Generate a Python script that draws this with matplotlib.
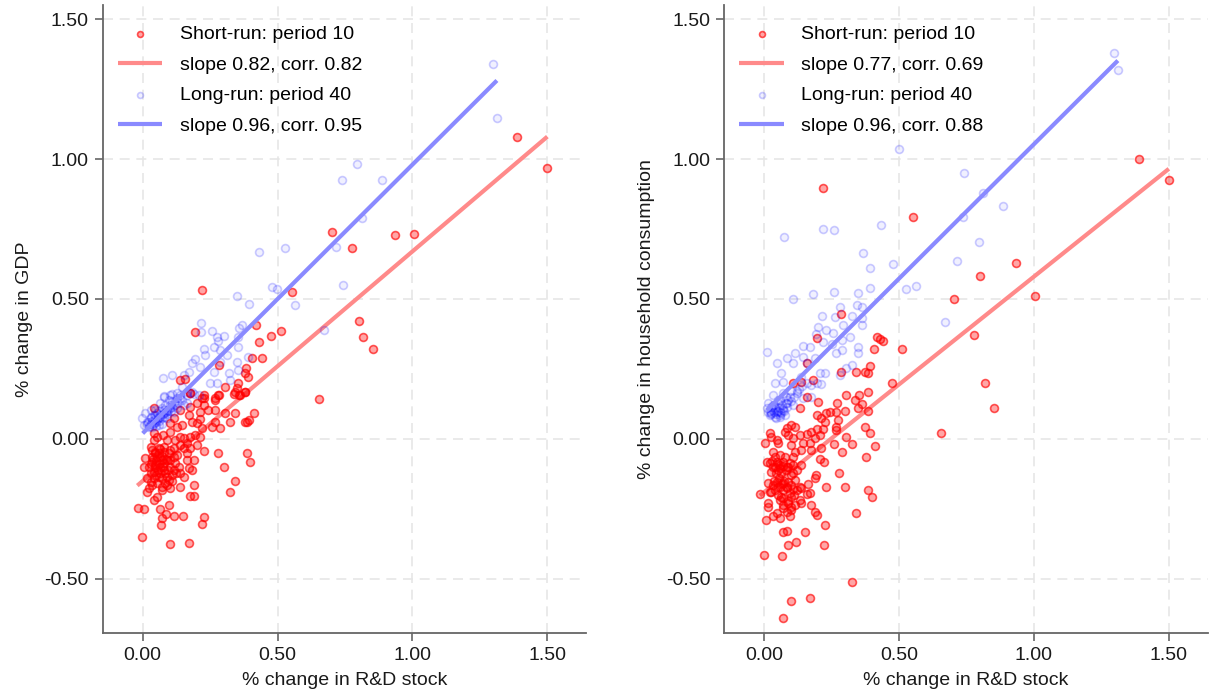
import matplotlib
matplotlib.use("Agg")
import matplotlib.pyplot as plt
import numpy as np

plt.rcParams['font.family'] = ['Liberation Sans', 'DejaVu Sans']

# ---- left panel: GDP ----
# short-run (period 10) points, (R&D stock change, GDP change)
gdp_sr = np.array([
    (1.389, 1.080), (1.500, 0.969), (0.702, 0.741), (0.936, 0.727), (1.005, 0.733),
    (0.777, 0.683), (0.802, 0.420), (0.817, 0.364), (0.852, 0.320), (0.652, 0.143),
    (0.220, 0.532), (0.195, 0.381), (0.419, 0.407), (0.514, 0.387), (0.474, 0.367),
    (0.430, 0.345), (0.405, 0.289), (0.441, 0.289), (0.552, 0.526), (0.282, 0.265),
    (0.384, 0.254), (0.378, 0.235), (0.390, 0.220), (0.353, 0.199), (0.305, 0.186),
    (0.350, 0.181), (0.380, 0.169), (0.337, 0.161), (0.362, 0.157), (0.137, 0.211),
    (0.158, 0.213), (0.177, 0.163), (0.278, 0.157), (0.226, 0.145), (0.269, 0.145),
    (-0.018, -0.248), (0.006, -0.251), (-0.001, -0.349), (0.101, -0.376), (0.171, -0.370),
    (0.068, -0.307), (0.073, -0.283), (0.096, -0.236), (0.063, -0.251), (0.088, -0.268),
    (0.115, -0.275), (0.150, -0.275), (0.226, -0.277), (0.220, -0.305), (0.041, -0.218),
    (0.016, -0.188), (0.053, -0.206), (0.072, -0.182), (0.103, -0.176), (0.140, -0.173),
    (0.177, -0.204), (0.192, -0.204), (0.192, -0.164), (0.325, -0.188), (0.341, -0.149),
    (0.300, -0.101), (0.229, -0.044), (0.278, -0.049), (0.387, -0.050), (0.399, -0.083),
    (0.010, -0.069), (0.004, -0.101), (0.016, -0.140), (0.035, -0.164), (0.041, -0.117),
    (0.035, -0.063), (0.029, -0.027), (0.041, -0.004), (0.047, -0.045), (0.059, -0.033),
    (0.066, -0.063), (0.078, -0.045), (0.090, -0.075), (0.066, -0.099), (0.059, -0.135),
    (0.084, -0.123), (0.103, -0.099), (0.096, -0.146), (0.109, -0.129), (0.121, -0.087),
    (0.127, -0.057), (0.115, -0.033), (0.137, -0.021), (0.152, -0.033), (0.164, -0.075),
    (0.171, -0.105), (0.183, -0.111), (0.152, -0.135), (0.189, -0.075), (0.041, 0.020),
    (0.053, 0.008), (0.075, 0.014), (0.090, -0.004), (0.121, -0.004), (0.140, 0.008),
    (0.103, 0.026), (0.127, 0.044), (0.146, 0.050), (0.177, 0.008), (0.164, -0.015),
    (0.195, 0.014), (0.214, 0.008), (0.220, 0.038), (0.201, 0.056), (0.183, 0.062),
    (0.170, 0.086), (0.140, 0.104), (0.115, 0.074), (0.103, 0.056), (0.177, 0.115),
    (0.201, 0.127), (0.220, 0.145), (0.226, 0.121), (0.241, 0.104), (0.214, 0.098),
    (0.214, 0.070), (0.257, 0.044), (0.288, 0.040), (0.269, 0.062), (0.269, 0.104),
    (0.269, 0.139), (0.282, 0.157), (0.306, 0.094), (0.325, 0.062), (0.343, 0.092),
    (0.356, 0.157), (0.380, 0.169), (0.387, 0.062), (0.378, 0.062), (0.393, 0.068),
    (0.411, 0.094), (0.343, 0.169), (0.041, 0.110), (0.177, 0.163), (0.226, 0.157),
    (0.035, -0.039), (0.047, -0.051), (0.053, -0.063), (0.063, -0.037), (0.072, -0.075),
    (0.035, -0.081), (0.022, -0.099), (0.047, -0.093), (0.056, -0.111), (0.078, -0.111),
    (0.090, -0.135), (0.041, -0.140), (0.029, -0.152), (0.053, -0.158), (0.084, -0.158),
    (0.072, -0.170), (0.022, -0.176), (0.103, -0.075), (0.096, -0.051), (0.115, -0.063),
    (0.134, -0.099), (0.140, -0.123), (0.115, -0.111), (0.164, -0.051), (0.152, 0.002),
    (0.201, -0.021), (0.177, -0.033),
    (0.040, -0.070), (0.050, -0.080), (0.060, -0.090), (0.070, -0.060), (0.080, -0.085),
    (0.045, -0.100), (0.065, -0.120), (0.075, -0.100), (0.085, -0.070), (0.095, -0.110),
    (0.030, -0.120), (0.050, -0.130), (0.070, -0.140), (0.090, -0.165), (0.060, -0.050),
    (0.080, -0.030), (0.100, -0.040), (0.110, -0.150), (0.125, -0.120), (0.030, -0.090),
])
# long-run (period 40) points
gdp_lr = np.array([
    (1.299, 1.341), (1.313, 1.148), (0.795, 0.983), (0.737, 0.925), (0.886, 0.925),
    (0.812, 0.790), (0.715, 0.687), (0.743, 0.549), (0.672, 0.391),
    (0.433, 0.668), (0.527, 0.682), (0.479, 0.543), (0.499, 0.537), (0.563, 0.480),
    (0.350, 0.510), (0.393, 0.482), (0.215, 0.413), (0.218, 0.382), (0.258, 0.386),
    (0.275, 0.365), (0.278, 0.350), (0.300, 0.369), (0.358, 0.395), (0.368, 0.406),
    (0.352, 0.365), (0.354, 0.330), (0.391, 0.294), (0.312, 0.300), (0.288, 0.318),
    (0.263, 0.327), (0.226, 0.320), (0.231, 0.300), (0.195, 0.285), (0.183, 0.270),
    (0.214, 0.258), (0.171, 0.240), (0.152, 0.229), (0.109, 0.229), (0.074, 0.217),
    (0.146, 0.187), (0.164, 0.169), (0.127, 0.163), (0.103, 0.157), (0.078, 0.154),
    (0.350, 0.276), (0.352, 0.246), (0.319, 0.235), (0.288, 0.276), (0.251, 0.199),
    (0.275, 0.199), (0.325, 0.211), (0.263, 0.240),
    (0.004, 0.050), (0.016, 0.062), (0.010, 0.092), (0.029, 0.074), (0.041, 0.056),
    (0.035, 0.044), (0.053, 0.068), (0.066, 0.080), (0.053, 0.092), (0.078, 0.092),
    (0.090, 0.104), (0.072, 0.110), (0.103, 0.121), (0.115, 0.127), (0.096, 0.139),
    (0.078, 0.151), (0.127, 0.145), (0.146, 0.139), (0.164, 0.157), (0.189, 0.161),
    (0.207, 0.157), (0.183, 0.169), (0.109, 0.161), (0.066, 0.127), (0.041, 0.086),
    (0.022, 0.044), (0.059, 0.050), (0.029, 0.104), (-0.002, 0.074), (0.090, 0.074),
    (0.127, 0.110), (0.152, 0.121), (0.047, 0.104), (0.084, 0.121), (0.115, 0.098),
    (0.140, 0.157), (0.164, 0.127),
    (0.020, 0.060), (0.030, 0.055), (0.035, 0.065), (0.045, 0.070), (0.050, 0.060),
    (0.055, 0.075), (0.060, 0.065), (0.065, 0.085), (0.070, 0.075), (0.075, 0.090),
    (0.080, 0.080), (0.085, 0.095), (0.090, 0.088), (0.095, 0.100), (0.100, 0.110),
    (0.105, 0.100), (0.110, 0.115), (0.120, 0.120), (0.025, 0.045), (0.040, 0.050),
    (0.060, 0.100), (0.045, 0.085), (0.030, 0.080), (0.110, 0.135), (0.130, 0.130),
    (0.140, 0.145), (0.015, 0.055), (0.050, 0.045), (0.070, 0.055), (0.080, 0.105),
])

# ---- right panel: household consumption ----
cons_sr = np.array([
    (1.388, 0.999), (1.500, 0.926), (0.218, 0.898), (0.935, 0.627), (0.801, 0.583),
    (0.702, 0.500), (1.004, 0.511), (0.778, 0.372), (0.817, 0.201), (0.852, 0.111),
    (0.654, 0.021),
    (0.552, 0.794), (0.283, 0.448), (0.194, 0.359), (0.419, 0.365), (0.429, 0.357),
    (0.441, 0.351), (0.406, 0.320), (0.512, 0.322), (0.394, 0.262), (0.375, 0.239),
    (0.385, 0.234), (0.283, 0.239), (0.157, 0.270), (0.108, 0.201), (0.136, 0.204),
    (0.182, 0.210), (0.473, 0.199), (0.340, 0.239),
    (-0.016, -0.196), (0.006, -0.289), (-0.001, -0.414), (0.066, -0.418), (0.101, -0.577),
    (0.169, -0.569), (0.070, -0.638), (0.325, -0.512), (0.340, -0.265), (0.221, -0.380),
    (0.117, -0.367), (0.089, -0.379), (0.151, -0.331), (0.070, -0.331), (0.083, -0.327),
    (0.225, -0.307), (0.194, -0.271), (0.188, -0.260), (0.175, -0.236), (0.058, -0.283),
    (0.033, -0.275), (0.046, -0.265), (0.095, -0.275), (0.101, -0.254), (0.070, -0.248),
    (0.015, -0.242), (0.015, -0.227), (0.064, -0.208), (0.089, -0.230), (0.114, -0.236),
    (0.138, -0.230), (0.157, -0.196), (0.169, -0.194), (0.132, -0.218), (0.101, -0.206),
    (0.108, -0.180), (0.083, -0.170), (0.040, -0.182), (0.021, -0.188), (0.058, -0.170),
    (0.046, -0.152), (0.070, -0.158), (0.132, -0.170), (0.163, -0.161), (0.229, -0.173),
    (0.300, -0.170), (0.385, -0.182), (0.398, -0.208), (0.379, -0.063), (0.278, -0.123),
    (0.191, -0.130), (0.188, -0.140), (0.108, -0.123), (0.138, -0.094), (0.206, -0.073),
    (0.222, -0.081), (0.290, -0.045), (0.410, -0.024), (0.391, 0.020), (0.373, 0.044),
    (0.324, -0.018), (0.305, 0.008), (0.258, -0.018), (0.212, -0.033), (0.175, -0.039),
    (0.169, -0.015), (0.145, -0.015), (0.138, -0.039), (0.114, -0.045), (0.108, -0.063),
    (0.077, -0.063), (0.033, -0.045), (0.009, -0.081), (0.003, -0.015), (0.021, 0.023),
    (0.027, 0.008), (0.046, -0.004), (0.052, -0.015), (0.077, 0.026), (0.089, 0.014),
    (0.108, 0.002), (0.101, -0.021), (0.132, 0.014), (0.157, 0.018), (0.175, 0.026),
    (0.188, 0.002), (0.206, 0.014), (0.219, 0.035), (0.196, 0.035), (0.225, 0.062),
    (0.212, 0.074), (0.194, 0.086), (0.231, 0.092), (0.243, 0.098), (0.268, 0.098),
    (0.274, 0.068), (0.268, 0.044), (0.266, 0.032), (0.299, 0.101), (0.270, 0.127),
    (0.305, 0.157), (0.336, 0.139), (0.352, 0.157), (0.361, 0.125), (0.348, 0.110),
    (0.383, 0.101), (0.385, 0.169), (0.200, 0.133), (0.157, 0.151), (0.132, 0.110),
    (0.114, 0.044), (0.101, 0.050), (0.083, 0.038),
    (0.021, -0.087), (0.033, -0.099), (0.046, -0.081), (0.058, -0.093), (0.070, -0.081),
    (0.083, -0.099), (0.052, -0.111), (0.027, -0.117), (0.064, -0.123), (0.095, -0.087),
    (0.108, -0.093), (0.040, -0.063), (0.058, -0.057), (0.015, -0.158), (0.033, -0.164),
    (0.052, -0.170), (0.070, -0.182), (0.089, -0.152), (0.101, -0.164), (0.114, -0.146),
    (0.120, -0.182), (0.138, -0.176), (0.095, -0.194), (0.058, -0.218), (0.070, -0.236),
    (0.101, -0.242), (0.083, -0.260),
    (0.030, -0.080), (0.040, -0.100), (0.050, -0.090), (0.060, -0.105), (0.070, -0.095),
    (0.080, -0.110), (0.090, -0.100), (0.045, -0.120), (0.055, -0.140), (0.065, -0.160),
    (0.075, -0.150), (0.085, -0.175), (0.035, -0.150), (0.025, -0.190), (0.050, -0.200),
    (0.070, -0.210), (0.090, -0.220), (0.110, -0.200), (0.100, -0.130), (0.120, -0.110),
])
cons_lr = np.array([
    (1.297, 1.378), (1.311, 1.318), (0.500, 1.036), (0.741, 0.950), (0.810, 0.879),
    (0.885, 0.831), (0.737, 0.793), (0.795, 0.703), (0.714, 0.637), (0.672, 0.418),
    (0.074, 0.720), (0.219, 0.751), (0.259, 0.747), (0.433, 0.764), (0.367, 0.665),
    (0.478, 0.625), (0.393, 0.612), (0.527, 0.537), (0.562, 0.547), (0.391, 0.540),
    (0.348, 0.520), (0.258, 0.524), (0.182, 0.518), (0.108, 0.499), (0.345, 0.479),
    (0.361, 0.472), (0.280, 0.473), (0.215, 0.439), (0.264, 0.437), (0.324, 0.439),
    (0.361, 0.431), (0.293, 0.407), (0.200, 0.401), (0.231, 0.389), (0.191, 0.375),
    (0.256, 0.377), (0.317, 0.365), (0.361, 0.407), (0.219, 0.347), (0.250, 0.339),
    (0.287, 0.353), (0.348, 0.329), (0.348, 0.306), (0.268, 0.306), (0.287, 0.318),
    (0.009, 0.309), (0.145, 0.332), (0.169, 0.329), (0.114, 0.308), (0.083, 0.291),
    (0.046, 0.270), (0.064, 0.234), (0.108, 0.270), (0.145, 0.294), (0.157, 0.270),
    (0.188, 0.288), (0.206, 0.234), (0.225, 0.234), (0.324, 0.264), (0.280, 0.228),
    (0.305, 0.252), (0.040, 0.199), (0.070, 0.204), (0.138, 0.222), (0.194, 0.199),
    (0.175, 0.193), (0.212, 0.196),
    (0.009, 0.110), (0.021, 0.086), (0.033, 0.121), (0.046, 0.098), (0.058, 0.080),
    (0.070, 0.104), (0.083, 0.127), (0.052, 0.139), (0.033, 0.157), (0.095, 0.151),
    (0.120, 0.163), (0.145, 0.145), (0.175, 0.151), (0.027, 0.092), (0.040, 0.080),
    (0.064, 0.092), (0.077, 0.086), (0.015, 0.127), (0.108, 0.121), (0.070, 0.163),
    (0.020, 0.100), (0.025, 0.090), (0.030, 0.105), (0.035, 0.095), (0.040, 0.110),
    (0.045, 0.090), (0.050, 0.100), (0.055, 0.110), (0.060, 0.095), (0.065, 0.120),
    (0.070, 0.110), (0.075, 0.100), (0.080, 0.130), (0.085, 0.115), (0.090, 0.140),
    (0.100, 0.135), (0.110, 0.150), (0.120, 0.170), (0.130, 0.180), (0.035, 0.120),
    (0.050, 0.130), (0.045, 0.075), (0.060, 0.085), (0.015, 0.095), (0.025, 0.115),
    (0.140, 0.190), (0.160, 0.200), (0.100, 0.170), (0.080, 0.150), (0.060, 0.140),
])

# fitted lines: slope, intercept, x range
gdp_fit = {'sr': (0.82, -0.15, -0.02, 1.50), 'lr': (0.96, 0.02, 0.0, 1.313)}
cons_fit = {'sr': (0.77, -0.19, -0.016, 1.50), 'lr': (0.96, 0.093, 0.01, 1.311)}

gdp_labels = ['Short-run: period 10', 'slope 0.82, corr. 0.82',
              'Long-run: period 40', 'slope 0.96, corr. 0.95']
cons_labels = ['Short-run: period 10', 'slope 0.77, corr. 0.69',
               'Long-run: period 40', 'slope 0.96, corr. 0.88']

ticks = [0.0, 0.5, 1.0, 1.5]
yticks = [-0.5, 0.0, 0.5, 1.0, 1.5]

fig = plt.figure(figsize=(12.16, 6.97), dpi=100)
ax1 = fig.add_axes([0.0845, 0.0918, 0.3978, 0.901])
ax2 = fig.add_axes([0.5956, 0.0918, 0.3978, 0.901])


def panel(ax, sr, lr, fit, labels, ylabel):
    s1, b1, x0, x1 = fit['sr']
    s2, b2, x2, x3 = fit['lr']
    xs = np.array([x0, x1])
    xl = np.array([x2, x3])
    ax.scatter(sr[:, 0], sr[:, 1], s=32, facecolor=(1, 0, 0, 0.35),
               edgecolor=(1, 0, 0, 0.65), linewidth=1.2, zorder=3, label=labels[0])
    ax.plot(xs, b1 + s1 * xs, color='#ff8a8a', lw=3, zorder=2,
            solid_capstyle='butt', label=labels[1])
    ax.scatter(lr[:, 0], lr[:, 1], s=32, facecolor=(0, 0, 1, 0.06),
               edgecolor=(0, 0, 1, 0.2), linewidth=1.2, zorder=4, label=labels[2])
    ax.plot(xl, b2 + s2 * xl, color='#8a8aff', lw=3, zorder=5,
            solid_capstyle='butt', label=labels[3])

    ax.set_xlim(-0.148, 1.645)
    ax.set_ylim(-0.693, 1.55)
    ax.set_xticks(ticks)
    ax.set_yticks(yticks)
    ax.set_xticklabels(['%.2f' % t for t in ticks])
    ax.set_yticklabels(['%.2f' % t for t in yticks])
    ax.grid(True, color='#e6e6e6', linestyle=(0, (6, 4)), linewidth=1.2, zorder=0)
    ax.set_axisbelow(True)
    for side in ['top', 'right']:
        ax.spines[side].set_visible(False)
    for side in ['left', 'bottom']:
        ax.spines[side].set_color('#666666')
        ax.spines[side].set_linewidth(1.3)
    ax.tick_params(colors='#666666', labelcolor='#1a1a1a', labelsize=14,
                   length=6, width=1.2, pad=4)
    ax.set_xlabel('% change in R&D stock', fontsize=14, color='#1a1a1a', labelpad=6)
    ax.set_ylabel(ylabel, fontsize=14, color='#1a1a1a', labelpad=8)
    ax.legend(loc='upper left', bbox_to_anchor=(0.031, 0.967), frameon=False,
              fontsize=14, markerscale=0.75, handlelength=2.3, handletextpad=0.9,
              labelspacing=0.66, borderpad=0, borderaxespad=0)


panel(ax1, gdp_sr, gdp_lr, gdp_fit, gdp_labels, '% change in GDP')
panel(ax2, cons_sr, cons_lr, cons_fit, cons_labels, '% change in household consumption')

fig.savefig('out.png', dpi=100)
